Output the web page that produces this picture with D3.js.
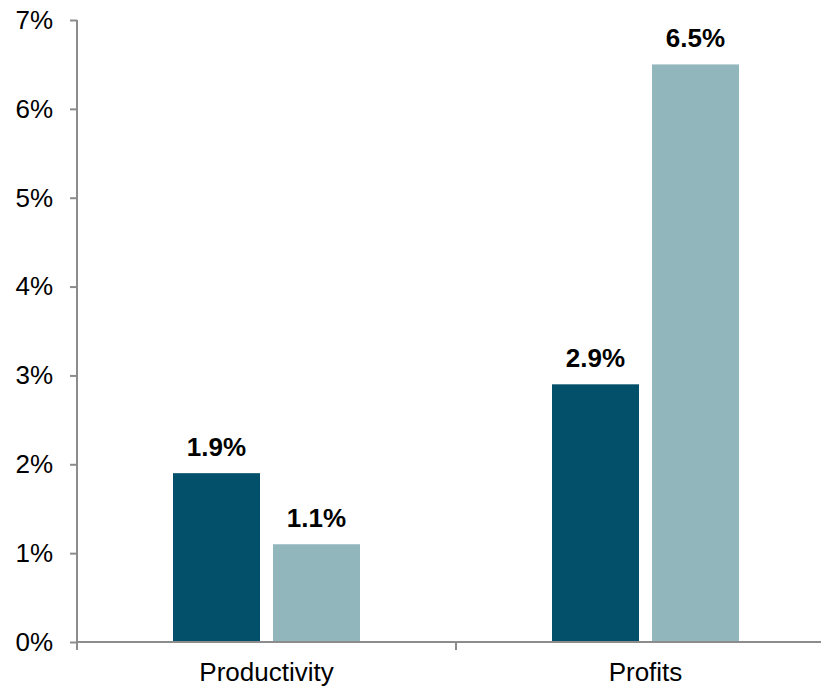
<!DOCTYPE html>
<html>
<head>
<meta charset="utf-8">
<script src="https://cdn.jsdelivr.net/npm/d3@7"></script>
<style>
  body { margin: 0; background: #fff; }
  svg { display: block; font-family: "Liberation Sans", Arial, sans-serif; }
</style>
</head>
<body>
<div id="chart"></div>
<script>
const categories = ["Productivity", "Profits"];
const seriesA = [1.9, 2.9];
const seriesB = [1.1, 6.5];
const yTicks = [0, 1, 2, 3, 4, 5, 6, 7];

const width = 821, height = 688;
const svg = d3.select("#chart").append("svg")
    .attr("width", width)
    .attr("height", height);

const x = d3.scaleBand().domain(categories).range([77, 835]);
const y = d3.scaleLinear().domain([0, 7]).range([642, 20]);
const axisColor = "#8c8c8c";
const fontSize = 26;

const rows = categories.map((c, i) => ({ cat: c, a: seriesA[i], b: seriesB[i] }));
const bars = [];
rows.forEach(r => {
    bars.push({ cat: r.cat, v: r.a, off: -50, color: "#03506b" });
    bars.push({ cat: r.cat, v: r.b, off: 50, color: "#91b6bb" });
});
const barW = 87;

svg.selectAll("rect.bar")
    .data(bars)
    .enter()
    .append("rect")
    .attr("class", "bar")
    .attr("x", d => x(d.cat) + x.bandwidth() / 2 + d.off - barW / 2)
    .attr("y", d => y(d.v))
    .attr("width", barW)
    .attr("height", d => y(0) - y(d.v))
    .attr("fill", d => d.color);

svg.selectAll("text.val")
    .data(bars)
    .enter()
    .append("text")
    .attr("class", "val")
    .attr("x", d => x(d.cat) + x.bandwidth() / 2 + d.off)
    .attr("y", d => y(d.v) - 17)
    .attr("text-anchor", "middle")
    .attr("font-size", fontSize)
    .attr("font-weight", "bold")
    .attr("fill", "#000")
    .text(d => d.v.toFixed(1) + "%");

// y axis
const yAxis = svg.append("g").attr("transform", "translate(77,0)")
    .call(d3.axisLeft(y).tickValues(yTicks).tickSize(7).tickPadding(17)
        .tickFormat(d => d + "%"));
yAxis.selectAll("path, line").attr("stroke", axisColor).attr("stroke-width", 2);
yAxis.select(".domain").attr("d", `M0,${y(7)}V${y(0)}`);
yAxis.selectAll("text").attr("font-size", fontSize).attr("fill", "#000")
    .attr("font-family", "Liberation Sans, Arial, sans-serif");

// x axis
const xAxis = svg.append("g").attr("transform", `translate(0,${y(0)})`)
    .call(d3.axisBottom(x).tickSize(0).tickPadding(21));
xAxis.select(".domain").attr("d", `M77,0H835`).attr("stroke", axisColor).attr("stroke-width", 2);
xAxis.selectAll("text").attr("font-size", fontSize).attr("fill", "#000")
    .attr("font-family", "Liberation Sans, Arial, sans-serif");

// category boundary ticks
const bounds = [x(categories[0]), x(categories[1])];
svg.selectAll("line.bnd")
    .data(bounds)
    .enter()
    .append("line")
    .attr("class", "bnd")
    .attr("x1", d => d).attr("x2", d => d)
    .attr("y1", y(0)).attr("y2", y(0) + 8)
    .attr("stroke", axisColor)
    .attr("stroke-width", 2);
</script>
</body>
</html>
